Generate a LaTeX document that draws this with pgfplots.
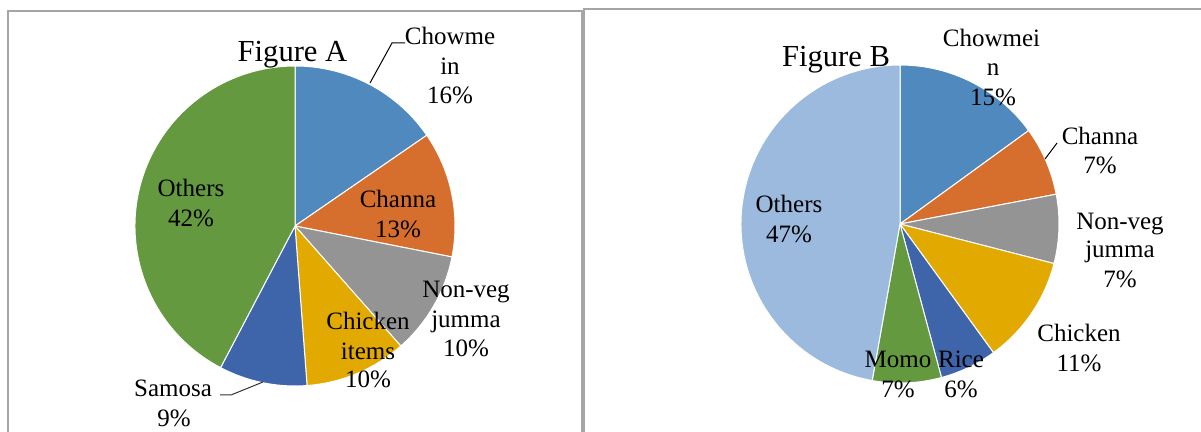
\documentclass[border=0pt]{standalone}
\usepackage{pgfplots}
\pgfplotsset{compat=1.18}
\usepackage{fontspec}
\setmainfont{Liberation Serif}
\definecolor{cBlue}{RGB}{79,137,189}
\definecolor{cOrange}{RGB}{214,111,45}
\definecolor{cGray}{RGB}{148,148,148}
\definecolor{cGold}{RGB}{226,170,0}
\definecolor{cDBlue}{RGB}{62,100,170}
\definecolor{cGreen}{RGB}{100,153,63}
\definecolor{cLBlue}{RGB}{155,186,222}
\definecolor{bordercol}{RGB}{165,165,165}
\newcommand{\lblfont}{\fontsize{12.5}{14.5}\selectfont}
\newcommand{\ttlfont}{\fontsize{15.3}{18}\selectfont}
% #1 cx, #2 cy (pixels), #3 radius, #4 cumulative start (%), #5 share (%), #6 colour
\newcommand{\slice}[6]{%
  \fill[#6, draw=white, line width=0.5pt] (axis cs:#1,#2) -- ++({90-3.6*(#4)}:#3)
    arc[start angle={90-3.6*(#4)}, end angle={90-3.6*(#4+#5)}, radius=#3] -- cycle;}
\newcommand{\lbl}[3]{\node[anchor=base, inner sep=0pt, font=\lblfont] at (axis cs:#1,#2) {#3};}
\begin{document}
\begin{tikzpicture}
\clip (0,0) rectangle (600.5pt,216pt);
\begin{axis}[at={(0,0)}, anchor=south west, width=600.5pt, height=216pt,
  scale only axis, xmin=0, xmax=1201, ymin=0, ymax=432, y dir=reverse,
  hide axis, clip=false]
% panel borders
\draw[bordercol, line width=0.8pt] (axis cs:8,460) -- (axis cs:8,11) -- (axis cs:582,11) -- (axis cs:582,460);
\draw[bordercol, line width=0.8pt] (axis cs:584,460) -- (axis cs:584,9) -- (axis cs:1220,9);
% Figure A
\slice{295}{226}{80pt}{0}{15.4}{cBlue}
\slice{295}{226}{80pt}{15.4}{12.7}{cOrange}
\slice{295}{226}{80pt}{28.1}{10.4}{cGray}
\slice{295}{226}{80pt}{38.5}{10.3}{cGold}
\slice{295}{226}{80pt}{48.8}{8.9}{cDBlue}
\slice{295}{226}{80pt}{57.7}{42.3}{cGreen}
\node[anchor=base, inner sep=0pt, font=\ttlfont] at (axis cs:292.5,62) {Figure A};
\draw[black, line width=0.5pt] (axis cs:405,43) -- (axis cs:392,43) -- (axis cs:370,83);
\lbl{450}{45}{Chowme}
\lbl{450}{75}{in}
\lbl{450}{104}{16\%}
\lbl{398}{208}{Channa}
\lbl{398}{238}{13\%}
\lbl{466}{298}{Non-veg}
\lbl{466}{328}{jumma}
\lbl{466}{357}{10\%}
\lbl{368}{330}{Chicken}
\lbl{368}{360}{items}
\lbl{368}{388}{10\%}
\draw[black!80, line width=0.5pt] (axis cs:220,395) -- (axis cs:231,395) -- (axis cs:263,382);
\lbl{173}{397}{Samosa}
\lbl{174}{427}{9\%}
\lbl{191}{197}{Others}
\lbl{191}{227}{42\%}
% Figure B
\slice{900}{224}{79.5pt}{0}{15}{cBlue}
\slice{900}{224}{79.5pt}{15}{7}{cOrange}
\slice{900}{224}{79.5pt}{22}{7}{cGray}
\slice{900}{224}{79.5pt}{29}{11}{cGold}
\slice{900}{224}{79.5pt}{40}{5.8}{cDBlue}
\slice{900}{224}{79.5pt}{45.8}{7}{cGreen}
\slice{900}{224}{79.5pt}{52.8}{47.2}{cLBlue}
\node[anchor=base, inner sep=0pt, font=\ttlfont] at (axis cs:836,67) {Figure B};
\lbl{991.5}{47}{Chowmei}
\lbl{993}{76}{n}
\lbl{993}{106}{15\%}
\draw[black, line width=0.5pt] (axis cs:1057,143) -- (axis cs:1045,159);
\lbl{1100}{145}{Channa}
\lbl{1100}{174}{7\%}
\lbl{1120}{230}{Non-veg}
\lbl{1120}{258}{jumma}
\lbl{1120}{288}{7\%}
\lbl{1079}{342}{Chicken}
\lbl{1079}{372}{11\%}
\lbl{898}{368}{Momo}
\lbl{898}{398}{7\%}
\lbl{961}{368}{Rice}
\lbl{961}{398}{6\%}
\lbl{789}{213}{Others}
\lbl{789}{243}{47\%}
\end{axis}
\end{tikzpicture}
\end{document}
